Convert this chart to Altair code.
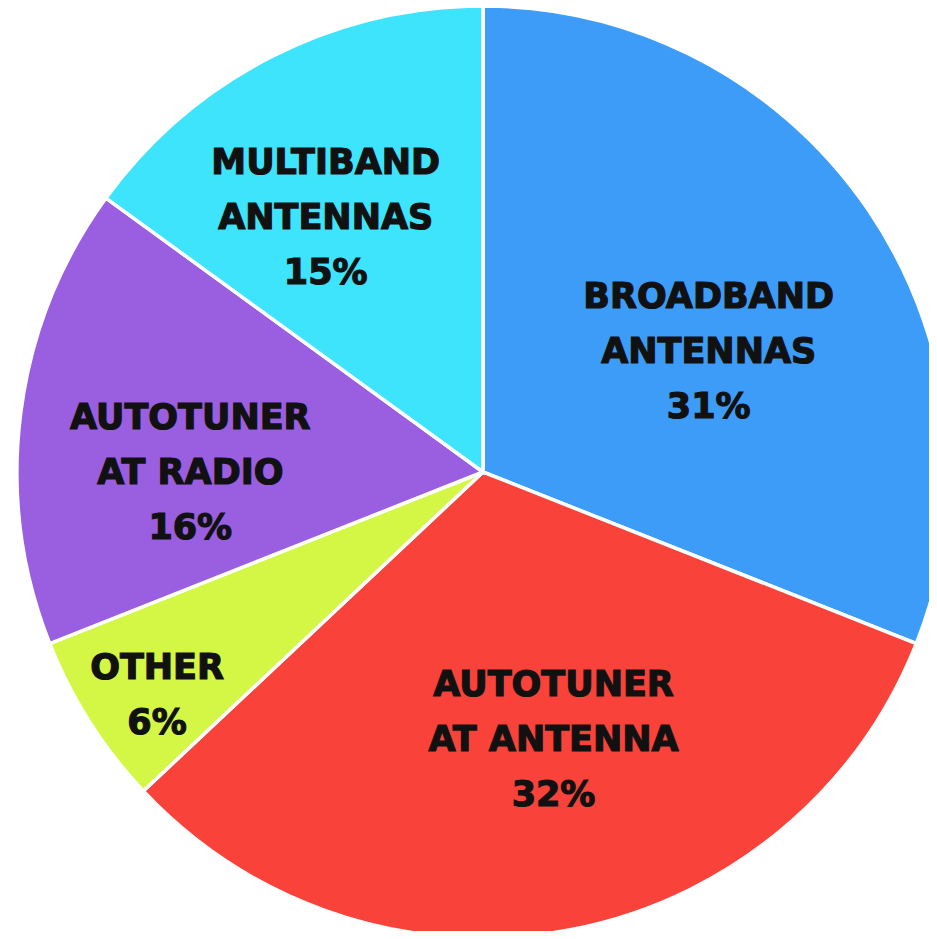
import altair as alt
import pandas as pd

categories = ["BROADBAND\nANTENNAS", "AUTOTUNER\nAT ANTENNA", "OTHER", "AUTOTUNER\nAT RADIO", "MULTIBAND\nANTENNAS"]
values = [31, 32, 6, 16, 15]
colors = ["#3d9cf7", "#f9423a", "#d4f745", "#9a5ee0", "#3de4fb"]

df = pd.DataFrame({
    "category": categories,
    "value": values,
    "idx": list(range(len(values))),
})
df["label"] = [c + "\n" + str(v) + "%" for c, v in zip(categories, values)]

# layout tweaks (label placement), not data
label_layout = {
    "BROADBAND\nANTENNAS": dict(radius=262, dx=9, dy=-28),
    "AUTOTUNER\nAT ANTENNA": dict(radius=275, dx=19, dy=-57),
    "OTHER": dict(radius=392, dx=5, dy=-14),
    "AUTOTUNER\nAT RADIO": dict(radius=292, dx=-3, dy=-17),
    "MULTIBAND\nANTENNAS": dict(radius=298, dx=-22, dy=-43),
}

CX, CY = 475, 464
theta_scale = alt.Scale(domain=[0, 100])

base = alt.Chart(df)

arcs = base.mark_arc(outerRadius=466, stroke="white", strokeWidth=3.5).encode(
    theta=alt.Theta("value:Q", stack=True, scale=theta_scale),
    color=alt.Color("category:N", sort=categories,
                    scale=alt.Scale(domain=categories, range=colors), legend=None),
    order=alt.Order("idx:Q"),
    x=alt.value(CX),
    y=alt.value(CY),
)

texts = []
for cat in categories:
    lay = label_layout[cat]
    t = base.transform_window(
        cum="sum(value)", sort=[alt.SortField("idx")]
    ).transform_calculate(
        mid="datum.cum - datum.value / 2"
    ).transform_filter(
        alt.datum.category == cat
    ).mark_text(
        radius=lay["radius"], dx=lay["dx"], dy=lay["dy"],
        font="DejaVu Sans", fontWeight="bold", fontSize=35,
        lineBreak="\n", lineHeight=55, color="#111111",
        stroke="#111111", strokeWidth=1.2,
        align="center", baseline="middle",
    ).encode(
        theta=alt.Theta("mid:Q", scale=theta_scale),
        text="label:N",
        x=alt.value(CX),
        y=alt.value(CY),
    )
    texts.append(t)

chart = alt.layer(arcs, *texts).properties(
    width=921, height=923, padding=0,
    autosize=alt.AutoSizeParams(type="none"),
    background="white",
).configure_view(stroke=None)

chart.save("out.html", embed_options={"renderer": "svg", "actions": False})
